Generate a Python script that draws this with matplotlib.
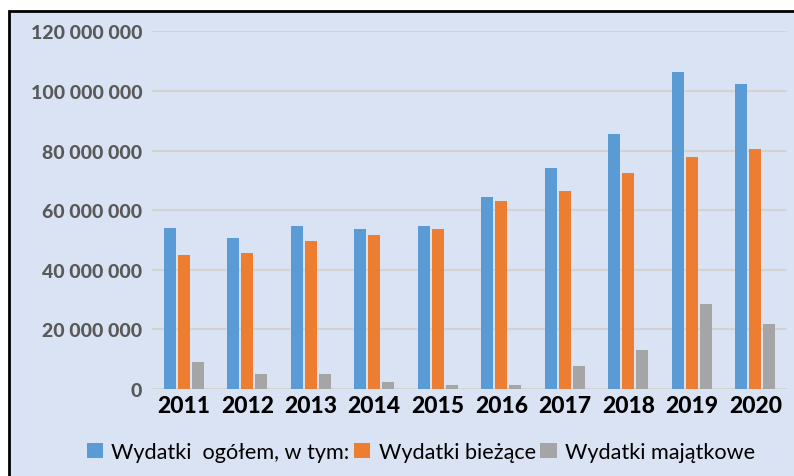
import numpy as np
import matplotlib.pyplot as plt
from matplotlib.patches import Rectangle

years = ['2011', '2012', '2013', '2014', '2015', '2016', '2017', '2018', '2019', '2020']
ogolem = [54.0, 50.7, 54.7, 53.7, 54.7, 64.4, 74.2, 85.6, 106.4, 102.3]
biezace = [45.0, 45.6, 49.7, 51.7, 53.7, 63.1, 66.4, 72.5, 77.9, 80.5]
majatkowe = [9.1, 5.0, 5.0, 2.3, 1.3, 1.3, 7.7, 13.1, 28.5, 21.8]
labels = ['Wydatki  ogółem, w tym:', 'Wydatki bieżące', 'Wydatki majątkowe']
colors = ['#5b9bd5', '#ed7d31', '#a5a5a5']

plt.rcParams['font.family'] = ['Lato', 'DejaVu Sans']

fig = plt.figure(figsize=(7.94, 4.77), dpi=100)
fig.patch.set_facecolor('white')
W, H = 794, 477
bg = Rectangle((8.5 / W, -0.1), 1.2, (477 - 11.5) / H + 0.1,
               transform=fig.transFigure, facecolor='#dae3f3',
               edgecolor='black', linewidth=2, zorder=-10)
fig.add_artist(bg)

ax = fig.add_axes([152 / W, 87 / H, 635 / W, (390 - 32.3) / H])
ax.set_facecolor('none')
ax.set_zorder(1)

x = np.arange(len(years))
step = 0.2205
bw = 0.189
series = [ogolem, biezace, majatkowe]
for i, (vals, lab, c) in enumerate(zip(series, labels, colors)):
    ax.bar(x + (i - 1) * step, np.array(vals) * 1e6, width=bw, color=c, label=lab, zorder=3)

ax.set_xlim(-0.5, len(years) - 0.5)
ax.set_ylim(0, 120e6)
yt = np.arange(0, 120e6 + 1, 20e6)
ax.set_yticks(yt)
ax.set_yticklabels(['{:,.0f}'.format(v).replace(',', ' ') for v in yt],
                   fontsize=14, fontweight='black', color='#595959')
ax.set_xticks(x)
ax.set_xticklabels(years, fontsize=16.5, fontweight='black', color='black')
ax.tick_params(axis='both', length=0)
ax.tick_params(axis='y', pad=7)
ax.tick_params(axis='x', pad=4)
ax.yaxis.grid(True, color='#d3d3d3', linewidth=1.5, zorder=0)
for s in ax.spines.values():
    s.set_visible(False)

leg = fig.legend(loc='center', bbox_to_anchor=(421 / W, 24 / H), ncol=3, frameon=False,
                 handlelength=0.75, handleheight=0.75, handletextpad=0.4,
                 columnspacing=0.2, prop={'size': 15.6})
leg.set_zorder(2)

fig.savefig('out.png', dpi=100)
